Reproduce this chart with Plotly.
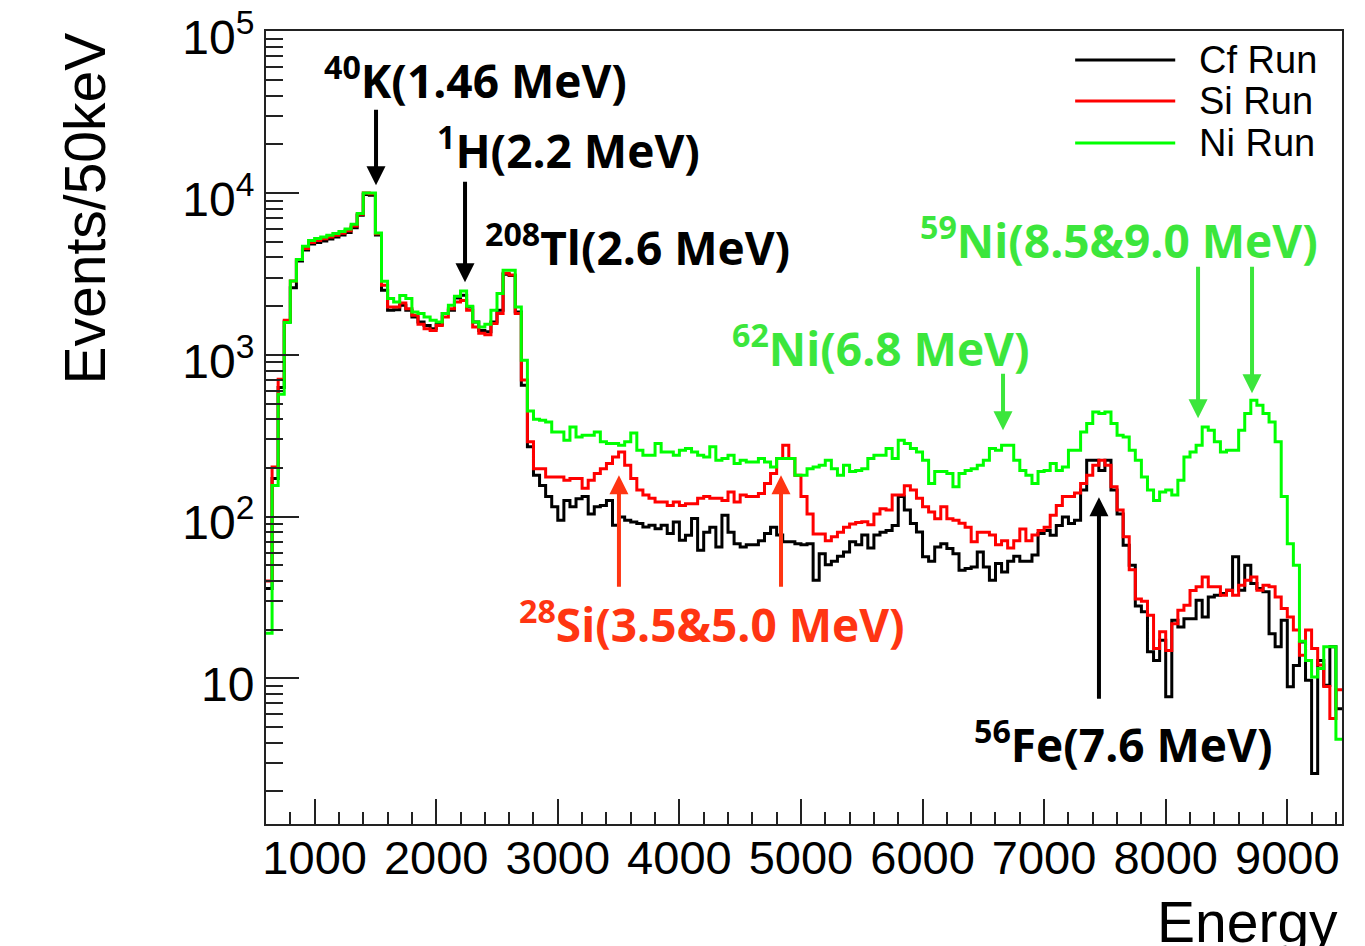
import plotly.graph_objects as go

# ---------------- data (events per 50 keV bin, bins start at 600 keV) ----------------
bin_width = 50
e_min = 600
e_max = 9450

cf_run = [
    36, 172, 628, 1600, 2600, 3800, 4450, 4850, 4950, 5050,
    5200, 5350, 5500, 5700, 6100, 7300, 9800, 9700, 5500, 2506,
    1888, 1900, 2027, 1888, 1714, 1597, 1520, 1450, 1545, 1800,
    1888, 2250, 2333, 1978, 1597, 1417, 1390, 1597, 1888, 3150,
    3100, 1840, 650, 270, 180, 156, 133, 115, 95, 126,
    115, 129, 133, 104, 115, 117, 126, 88.5, 99.6, 95,
    92.7, 90.6, 86.3, 88.5, 84.3, 88.5, 78.6, 92.7, 71.5, 76.7,
    97.3, 62, 80, 86, 65, 102, 80, 68, 65, 67,
    67, 71, 78.6, 86, 77, 70, 70, 68, 67, 68,
    40.5, 59, 50.5, 53, 57, 60.5, 70, 67, 77, 64,
    77, 80, 82, 88, 133, 110, 90.6, 80.4, 56.5, 53,
    65, 68, 63.5, 59, 46.7, 47.8, 48.9, 60.5, 48.9, 40.5,
    51.3, 45.5, 53, 57, 53, 53, 58, 78.6, 82, 76.7,
    88, 99.6, 90.6, 95, 146, 223, 223, 193, 223, 146,
    104, 66.6, 50, 28, 25.8, 14.6, 12.9, 17.2, 7.7, 22.9,
    20.8, 23.4, 23.4, 30.4, 24, 31.9, 32.7, 33.5, 35.1, 56.5,
    35.1, 50.1, 38.6, 35.9, 34.3, 18.9, 15.7, 22.9, 8.87, 12,
    16.8, 9.75, 2.58, 12.9, 9.07, 15.7, 6.5,
]

si_run = [
    40, 203, 706, 1636, 2860, 3880, 4540, 4950, 5100, 5220,
    5350, 5480, 5640, 5850, 6250, 7400, 10000, 9900, 5600, 2690,
    1978, 1978, 2090, 1930, 1756, 1545, 1450, 1417, 1520, 1714,
    1930, 2124, 2170, 1888, 1489, 1360, 1330, 1560, 1800, 3190,
    3120, 1800, 700, 290, 198, 198, 176, 176, 176, 168,
    172, 172, 150, 168, 185, 198, 213, 234, 251, 208,
    172, 146, 136, 130, 123, 123, 117, 123, 117, 120,
    120, 130, 133, 130, 130, 126, 142, 123, 136, 133,
    133, 139, 160, 185, 229, 276, 229, 180, 133, 104,
    78, 78, 71, 75, 80, 86, 90, 92, 93, 89,
    104, 112, 110, 136, 136, 155, 146, 130, 115, 107,
    97, 115, 97, 95, 91, 86, 70, 80, 80, 77,
    67, 71, 64, 71, 84, 71, 77, 82, 86, 102,
    117, 133, 133, 140, 160, 180, 208, 223, 208, 153,
    110, 75, 47, 31, 30, 24.6, 15.3, 19.4, 14.9, 21.8,
    26.4, 28.3, 35, 36.8, 42.4, 36.8, 36.8, 32.7, 35.1, 32.7,
    37.7, 40.5, 42.4, 35.1, 37.7, 36.8, 31.9, 27, 24, 19.9,
    13.9, 19.9, 15.3, 12.1, 8.9, 5.65, 8.5,
]

ni_run = [
    19, 156, 571, 1585, 2862, 3880, 4690, 5100, 5240, 5360,
    5480, 5620, 5780, 6000, 6410, 7470, 10000, 10000, 5660, 2850,
    2230, 2120, 2330, 2230, 1843, 1800, 1714, 1636, 1597, 1800,
    2027, 2300, 2484, 2000, 1597, 1489, 1545, 1888, 2392, 3333,
    3333, 1978, 927, 450, 400, 394, 385, 334, 334, 297,
    358, 311, 319, 319, 334, 290, 283, 283, 276, 290,
    329, 257, 240, 240, 283, 251, 251, 240, 257, 264,
    251, 240, 234, 270, 223, 229, 240, 213, 223, 218,
    218, 229, 218, 203, 229, 229, 229, 180, 180, 198,
    203, 208, 223, 198, 180, 208, 190, 193, 198, 229,
    240, 240, 264, 229, 297, 283, 264, 251, 223, 160,
    190, 190, 185, 153, 185, 193, 198, 208, 223, 264,
    257, 276, 276, 223, 193, 180, 160, 190, 193, 213,
    193, 203, 257, 257, 334, 376, 443, 434, 443, 376,
    319, 311, 257, 223, 176, 146, 126, 142, 146, 136,
    168, 234, 251, 276, 358, 342, 290, 251, 257, 257,
    342, 434, 524, 488, 434, 385, 290, 133, 68, 50,
    17, 12.9, 10.2, 11.5, 15.7, 15.7, 4.2,
]

series_names = ["Cf Run", "Si Run", "Ni Run"]
series_colors = ["#000000", "#ff0000", "#00ff00"]

x_tick_vals = [1000, 2000, 3000, 4000, 5000, 6000, 7000, 8000, 9000]
x_tick_text = ["1000", "2000", "3000", "4000", "5000", "6000", "7000", "8000", "9000"]
y_tick_vals = [10, 100, 1000, 10000, 100000]
y_tick_text = ["10", "10<sup>2</sup>", "10<sup>3</sup>", "10<sup>4</sup>", "10<sup>5</sup>"]
y_minor_vals = [m * 10 ** d for d in range(0, 5) for m in range(2, 10)]

# peak labels: (text, colour, paper x of left edge, paper y of centre)
GREEN_TXT = "#3ce63c"
RED_TXT = "#ff3512"
peak_labels = [
    ("<sup>40</sup>K(1.46 MeV)", "#000000", 0.052, 0.941),
    ("<sup>1</sup>H(2.2 MeV)", "#000000", 0.157, 0.852),
    ("<sup>208</sup>Tl(2.6 MeV)", "#000000", 0.2017, 0.730),
    ("<sup>59</sup>Ni(8.5&9.0 MeV)", GREEN_TXT, 0.606, 0.739),
    ("<sup>62</sup>Ni(6.8 MeV)", GREEN_TXT, 0.431, 0.603),
    ("<sup>28</sup>Si(3.5&5.0 MeV)", RED_TXT, 0.233, 0.255),
    ("<sup>56</sup>Fe(7.6 MeV)", "#000000", 0.656, 0.103),
]

# arrows: (energy keV, log10 tip, log10 tail, colour)
arrows = [
    (1505, 4.048, 4.524, "#000000"),
    (2237, 3.449, 4.079, "#000000"),
    (6662, 2.534, 2.893, GREEN_TXT),
    (8266, 2.608, 3.554, GREEN_TXT),
    (8710, 2.763, 3.554, GREEN_TXT),
    (3503, 2.256, 1.557, RED_TXT),
    (4836, 2.256, 1.557, RED_TXT),
    (7451, 2.120, 0.865, "#000000"),
]

# ---------------- figure ----------------
edges = [e_min + bin_width * i for i in range(len(ni_run) + 1)]

fig = go.Figure()
for name, vals, color in zip(series_names, [cf_run, si_run, ni_run], series_colors):
    fig.add_trace(go.Scatter(
        x=edges, y=list(vals) + [vals[-1]],
        mode="lines", name=name,
        line=dict(shape="hv", color=color, width=3),
        showlegend=False,
    ))

# the page body adds an 8px offset, so the figure is drawn 8px smaller
W, H = 1357, 938
fig.update_layout(
    width=W, height=H, autosize=False,
    margin=dict(l=258, r=23, t=23, b=122, autoexpand=False),
    paper_bgcolor="white", plot_bgcolor="white",
    showlegend=False,
)

fig.update_xaxes(
    range=[e_min, e_max], automargin=False,
    showgrid=False, zeroline=False,
    showline=True, linecolor="#222222", linewidth=2, mirror=True,
    ticks="inside", ticklen=25, tickwidth=1.5, tickcolor="#222222",
    tickmode="array", tickvals=x_tick_vals, ticktext=x_tick_text,
    tickfont=dict(family="Liberation Sans, Arial", size=47, color="black"),
    ticklabelstandoff=-8,
    minor=dict(ticks="inside", ticklen=12, tickwidth=1.5, tickcolor="#222222",
               dtick=200, tick0=0, showgrid=False),
)
fig.update_yaxes(
    type="log", range=[0.1, 5.002], automargin=False,
    showgrid=False, zeroline=False,
    showline=True, linecolor="#222222", linewidth=2, mirror=True,
    ticks="inside", ticklen=33, tickwidth=1.5, tickcolor="#222222",
    tickmode="array", tickvals=y_tick_vals, ticktext=y_tick_text,
    tickfont=dict(family="Liberation Sans, Arial", size=48, color="black"),
    ticklabeloverflow="allow", ticklabelshift=6,
    minor=dict(ticks="inside", ticklen=17, tickwidth=1.5, tickcolor="#222222",
               tickmode="array", tickvals=y_minor_vals, showgrid=False),
)

annotations = []
for text, color, px, py in peak_labels:
    annotations.append(dict(
        text="<b>" + text + "</b>", x=px, y=py, xref="paper", yref="paper",
        xanchor="left", yanchor="middle", showarrow=False,
        font=dict(family="Open Sans, Noto Sans", size=46, color=color),
    ))
for e, tip, tail, color in arrows:
    annotations.append(dict(
        text="", x=e, y=tip, xref="x", yref="y",
        ax=e, ay=tail, axref="x", ayref="y",
        showarrow=True, arrowhead=2, arrowsize=0.95, arrowwidth=4,
        arrowcolor=color,
    ))

# axis titles
annotations.append(dict(
    text="Events/50keV", textangle=-90, x=-0.168, y=1.001,
    xref="paper", yref="paper", xanchor="center", yanchor="top",
    showarrow=False, font=dict(family="Liberation Sans, Arial", size=57, color="black"),
))
annotations.append(dict(
    text="Energy", x=0.998, y=-0.081, xref="paper", yref="paper",
    xanchor="right", yanchor="top", showarrow=False,
    font=dict(family="Liberation Sans, Arial", size=57, color="black"),
))

# legend (drawn manually, ROOT style, no border)
legend_y = [0.9634, 0.9117, 0.8588]
shapes = []
for name, color, ly in zip(series_names, series_colors, legend_y):
    shapes.append(dict(type="line", xref="paper", yref="paper",
                       x0=0.752, x1=0.845, y0=ly, y1=ly,
                       line=dict(color=color, width=3)))
    annotations.append(dict(
        text=name, x=0.865, y=ly, xref="paper", yref="paper",
        xanchor="left", yanchor="middle", showarrow=False,
        font=dict(family="Liberation Sans, Arial", size=38, color="black"),
    ))

fig.update_layout(annotations=annotations, shapes=shapes)
fig.write_html("out.html")
